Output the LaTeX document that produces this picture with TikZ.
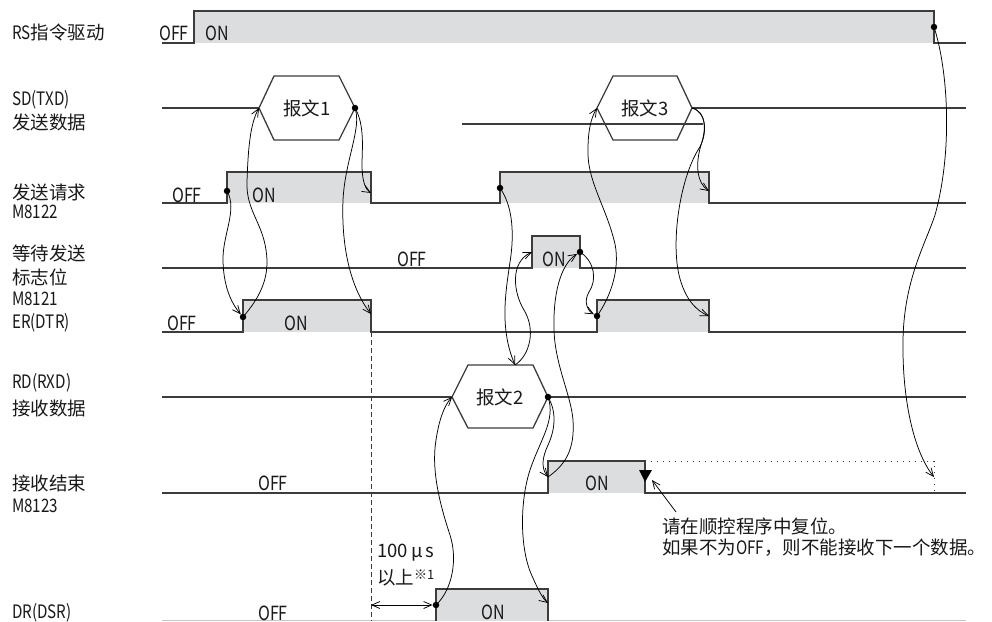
\documentclass[tikz,border=0pt]{standalone}
\usepackage{fontspec}
\setmainfont{Noto Sans CJK SC}
\newfontfamily\nar{Noto Sans CJK SC}[FakeStretch=0.82]
\usetikzlibrary{arrows.meta}
\definecolor{onfill}{RGB}{220,221,223}
\definecolor{wire}{RGB}{60,60,60}
\definecolor{ink}{RGB}{25,25,25}

\begin{document}
\begin{tikzpicture}[
    x=1pt, y=-1pt,
    sigline/.style={draw=wire, line width=1.3pt},
    onbox/.style={fill=onfill},
    conn/.style={-{Straight Barb[length=8pt,width=7pt]}, line width=0.75pt},
    dblconn/.style={{Straight Barb[length=8pt,width=7pt]}-{Straight Barb[length=8pt,width=7pt]}, line width=0.75pt},
    dot/.style={circle, fill=black, inner sep=0pt, minimum size=6.5pt},
    lbl/.style={anchor=west, inner sep=0pt, text=ink, font=\fontsize{18.5}{22}\selectfont},
    val/.style={inner sep=0pt, text=ink, font=\fontsize{19.5}{22}\selectfont\nar}
]
    \fill[white] (0,0) rectangle (992,621);
    \useasboundingbox (0,0) rectangle (992,621);

    % ---- signal names ----
    \node[lbl] (lRS)   at (12,32)  {{\nar RS}指令驱动};
    \node[lbl] (lSD)   at (12,100) {\nar SD(TXD)};
    \node[lbl] (lSDb)  at (12,122) {发送数据};
    \node[lbl] (lReq)  at (12,192) {发送请求};
    \node[lbl] (lReqb) at (12,212) {\nar M8122};
    \node[lbl] (lWt)   at (12,253) {等待发送};
    \node[lbl] (lWtb)  at (12,277) {标志位};
    \node[lbl] (lWtc)  at (12,299) {\nar M8121};
    \node[lbl] (lER)   at (12,323) {\nar ER(DTR)};
    \node[lbl] (lRD)   at (12,383) {\nar RD(RXD)};
    \node[lbl] (lRDb)  at (12,408) {接收数据};
    \node[lbl] (lEnd)  at (12,483) {接收结束};
    \node[lbl] (lEndb) at (12,506) {\nar M8123};
    \node[lbl] (lDR)   at (12,613) {\nar DR(DSR)};

    % ---- RS drive ----
    \fill[onbox] (194,11) rectangle (934,43);
    \draw[sigline] (162,43) -- (194,43) -- (194,11) -- (934,11) -- (934,43) -- (966,43);
    \node[val] (rsOff) at (174,33) {OFF};
    \node[val] (rsOn)  at (217,33) {ON};

    % ---- SD (TXD) ----
    \coordinate (msgAw) at (259,108);
    \coordinate (msgAe) at (355,108);
    \coordinate (msgCw) at (597,108);
    \coordinate (msgCe) at (692,108);
    \draw[sigline] (162,108) -- (msgAw);
    \draw[sigline] (msgAw) -- (274,76) -- (339,76) -- (msgAe) -- (339,140) -- (274,140) -- cycle;
    \node[lbl, anchor=center] (msgA) at (307,108) {报文1};
    \draw[sigline] (msgCw) -- (613,76) -- (677,76) -- (msgCe) -- (677,140) -- (613,140) -- cycle;
    \node[lbl, anchor=center] (msgC) at (645,108) {报文3};
    \draw[sigline] (462,124) -- (703,124);
    \draw[sigline] (msgCe) -- (966,108);

    % ---- send request M8122 ----
    \fill[onbox] (227,172) rectangle (371,203);
    \fill[onbox] (500,172) rectangle (709,203);
    \draw[sigline] (162,203) -- (227,203) -- (227,172) -- (371,172) -- (371,203)
        -- (500,203) -- (500,172) -- (709,172) -- (709,203) -- (966,203);
    \node[val] (reqOff) at (187,195) {OFF};
    \node[val] (reqOn)  at (264,195) {ON};

    % ---- wait flag M8121 ----
    \fill[onbox] (532,236) rectangle (580,268);
    \draw[sigline] (162,268) -- (532,268) -- (532,236) -- (580,236) -- (580,268) -- (966,268);
    \node[val] (wtOff) at (412,259) {OFF};
    \node[val] (wtOn)  at (554,259) {ON};

    % ---- ER (DTR) ----
    \fill[onbox] (243,300) rectangle (371,332);
    \fill[onbox] (597,300) rectangle (709,332);
    \draw[sigline] (162,332) -- (243,332) -- (243,300) -- (371,300) -- (371,332)
        -- (597,332) -- (597,300) -- (709,300) -- (709,332) -- (966,332);
    \node[val] (erOff) at (182,323) {OFF};
    \node[val] (erOn)  at (296,323) {ON};

    % ---- RD (RXD) ----
    \coordinate (msgBw) at (452,397);
    \coordinate (msgBn) at (515,365);
    \draw[sigline] (162,397) -- (msgBw);
    \draw[sigline] (msgBw) -- (468,365) -- (533,365) -- (548,397) -- (533,428) -- (468,428) -- cycle;
    \node[lbl, anchor=center] (msgB) at (500,397) {报文2};
    \draw[sigline] (548,397) -- (966,397);

    % ---- receive end M8123 ----
    \fill[onbox] (548,461) rectangle (645,493);
    \draw[sigline] (162,493) -- (548,493) -- (548,461) -- (645,461) -- (645,493) -- (966,493);
    \fill[black] (639,470) -- (652,470) -- (645,482) -- cycle;
    \draw[wire, line width=1pt, dash pattern=on 1.2pt off 4.8pt] (645,461) -- (934,461) -- (934,493);
    \node[val] (endOff) at (273,483) {OFF};
    \node[val] (endOn)  at (597,483) {ON};

    % ---- DR (DSR) ----
    \draw[gray!45, line width=1pt] (162,620) -- (966,620);
    \fill[onbox] (436,589) rectangle (548,621);
    \draw[sigline] (436,621) -- (436,589) -- (548,589) -- (548,621);
    \node[val] (drOff) at (273,613) {OFF};
    \node[val] (drOn)  at (493,612) {ON};

    % ---- 100us gap ----
    \draw[wire, line width=0.9pt, dash pattern=on 5pt off 3pt] (371,332) -- (371,621);
    \coordinate (gapL) at (371,605);
    \node[lbl] (gapA) at (377,553) {100\,μ\,s};
    \node[lbl] (gapB) at (377,578) {以上\raisebox{5pt}{\fontsize{13}{13}\selectfont ※1}};

    % ---- note ----
    \node[lbl] (noteA) at (662,526) {请在顺控程序中复位。};
    \node[lbl] (noteB) at (662,548) {如果不为{\nar OFF}，则不能接收下一个数据。};

    % ---- event points ----
    \node[dot] (rsDot)   at (934,27)  {};
    \node[dot] (reqDot)  at (227,191) {};
    \node[dot] (reqDotB) at (500,188) {};
    \node[dot] (msgADot) at (msgAe)   {};
    \node[dot] (wtDot)   at (580,252) {};
    \node[dot] (erDot)   at (243,317) {};
    \node[dot] (erDotB)  at (597,316) {};
    \node[dot] (msgBDot) at (548,397) {};
    \node[dot] (drDot)   at (436,605) {};
    \coordinate (reqFall)  at (371,193);
    \coordinate (reqFallB) at (709,191);
    \coordinate (wtRise)   at (532,252);
    \coordinate (erFall)   at (371,314);
    \coordinate (erFallB)  at (709,316);
    \coordinate (endRise)  at (548,477);
    \coordinate (drFall)   at (548,603);
    \coordinate (rsEnd)    at (934,477);
    \coordinate (noteFoot) at (676,512);
    \coordinate (noteTip)  at (652,480);

    % ---- cause / effect arrows ----
    \draw[conn] (reqDot.center) .. controls (238,210) and (222,235) .. (223,262)
        .. controls (224,290) and (233,305) .. (erDot);
    \draw[conn] (erDot.center) .. controls (262,295) and (270,275) .. (266,250)
        .. controls (262,222) and (246,210) .. (247,182)
        .. controls (248,150) and (250,124) .. (msgAw);
    \draw[conn] (msgADot.center) .. controls (365,125) and (362,150) .. (362,165)
        .. controls (362,182) and (366,190) .. (reqFall);
    \draw[conn] (msgADot.center) .. controls (362,128) and (345,160) .. (343,200)
        .. controls (341,250) and (352,290) .. (erFall);
    \draw[conn] (reqDotB.center) .. controls (512,205) and (514,230) .. (511,255)
        .. controls (507,285) and (498,325) .. (msgBn);
    \draw[conn] (msgBn) .. controls (530,355) and (536,330) .. (524,310)
        .. controls (513,292) and (510,262) .. (wtRise);
    \draw[conn] (wtDot.center) .. controls (595,262) and (597,280) .. (589,292)
        .. controls (583,302) and (588,311) .. (erDotB);
    \draw[conn] (erDotB.center) .. controls (612,295) and (621,265) .. (614,240)
        .. controls (605,205) and (587,180) .. (588,150)
        .. controls (588,130) and (591,118) .. (msgCw);
    \draw[conn] (msgCe) .. controls (707,112) and (706,130) .. (701,145)
        .. controls (695,165) and (697,183) .. (reqFallB);
    \draw[conn] (msgCe) .. controls (707,112) and (708,135) .. (698,150)
        .. controls (680,180) and (671,240) .. (679,275)
        .. controls (685,300) and (697,311) .. (erFallB);
    \draw[conn] (drDot.center) .. controls (452,590) and (458,560) .. (450,535)
        .. controls (440,505) and (431,470) .. (436,440)
        .. controls (439,420) and (444,406) .. (msgBw);
    \draw[conn] (msgBDot.center) .. controls (557,412) and (555,430) .. (548,445)
        .. controls (542,458) and (541,468) .. (endRise);
    \draw[conn] (endRise) .. controls (565,465) and (575,450) .. (573,420)
        .. controls (571,395) and (555,365) .. (554,330)
        .. controls (553,295) and (560,265) .. (wtDot);
    \draw[conn] (msgBDot.center) .. controls (556,420) and (540,440) .. (530,470)
        .. controls (520,500) and (519,550) .. (533,578)
        .. controls (539,592) and (544,600) .. (drFall);
    \draw[conn] (rsDot.center) .. controls (948,70) and (953,150) .. (935,215)
        .. controls (925,245) and (904,280) .. (903,340)
        .. controls (902,400) and (914,452) .. (rsEnd);
    \draw[dblconn] (gapL) -- (drDot);
    \draw[conn] (noteFoot) -- (noteTip);
\end{tikzpicture}
\end{document}
